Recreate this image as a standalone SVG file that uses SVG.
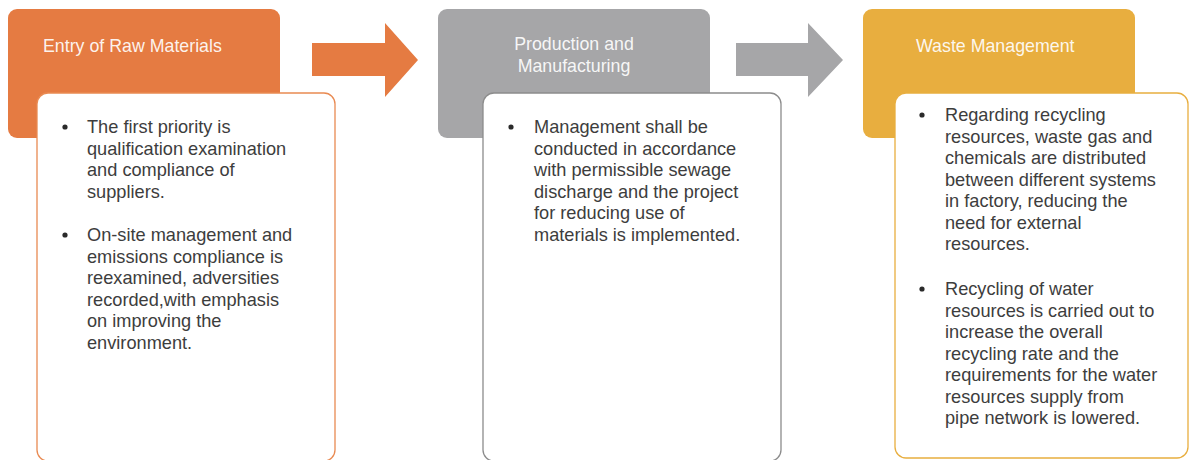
<svg xmlns="http://www.w3.org/2000/svg" width="1189" height="460" viewBox="0 0 1189 460">
<style>
.hdr{font-family:"Liberation Sans",Arial,sans-serif;font-size:17.8px;fill:#ffffff;fill-opacity:0.92}
.body{font-family:"Liberation Sans",Arial,sans-serif;font-size:18.2px;fill:#3d3d3d}
.card{fill:#ffffff;stroke-width:1.3}
</style>
<rect width="1189" height="460" fill="#ffffff"/>
<g id="connectors">
<polygon points="312,43 385,43 385,23 418,60 385,97 385,76 312,76" fill="#E57B42"/>
<polygon points="736,43 808,43 808,23 843,60 808,97 808,76 736,76" fill="#A6A6A8"/>
</g>
<g id="node-raw">
<rect x="8" y="9" width="272" height="129" rx="9" fill="#E57B42"/>
<rect class="card" x="37" y="93" width="298" height="368" rx="11" stroke="#E98A52"/>
<text class="hdr" x="43" y="52">Entry of Raw Materials</text>
<g class="body">
<circle cx="65" cy="127" r="2.6" fill="#2a2a2a"/>
<text x="87" y="133">The first priority is</text>
<text x="87" y="154.5">qualification examination</text>
<text x="87" y="176">and compliance of</text>
<text x="87" y="197.5">suppliers.</text>
<circle cx="65" cy="235" r="2.6" fill="#2a2a2a"/>
<text x="87" y="241">On-site management and</text>
<text x="87" y="262.5">emissions compliance is</text>
<text x="87" y="284">reexamined, adversities</text>
<text x="87" y="305.5">recorded,with emphasis</text>
<text x="87" y="327">on improving the</text>
<text x="87" y="348.5">environment.</text>
</g>
</g>
<g id="node-production">
<rect x="438" y="9" width="272" height="129" rx="9" fill="#A6A6A8"/>
<rect class="card" x="483" y="93" width="298" height="368" rx="11" stroke="#8c8c8c"/>
<text class="hdr" x="574" y="50" text-anchor="middle">Production and</text>
<text class="hdr" x="574" y="72" text-anchor="middle">Manufacturing</text>
<g class="body">
<circle cx="511" cy="127" r="2.6" fill="#2a2a2a"/>
<text x="534" y="133">Management shall be</text>
<text x="534" y="154.5">conducted in accordance</text>
<text x="534" y="176">with permissible sewage</text>
<text x="534" y="197.5">discharge and the project</text>
<text x="534" y="219">for reducing use of</text>
<text x="534" y="240.5">materials is implemented.</text>
</g>
</g>
<g id="node-waste">
<rect x="863" y="9" width="272" height="129" rx="9" fill="#E8AE3F"/>
<rect class="card" x="895" y="93" width="293" height="365" rx="11" stroke="#E8AE3F" stroke-width="1.8"/>
<text class="hdr" x="916" y="52">Waste Management</text>
<g class="body">
<circle cx="922" cy="115" r="2.6" fill="#2a2a2a"/>
<text x="945" y="121">Regarding recycling</text>
<text x="945" y="142.5">resources, waste gas and</text>
<text x="945" y="164">chemicals are distributed</text>
<text x="945" y="185.5">between different systems</text>
<text x="945" y="207">in factory, reducing the</text>
<text x="945" y="228.5">need for external</text>
<text x="945" y="250">resources.</text>
<circle cx="922" cy="289" r="2.6" fill="#2a2a2a"/>
<text x="945" y="295">Recycling of water</text>
<text x="945" y="316.5">resources is carried out to</text>
<text x="945" y="338">increase the overall</text>
<text x="945" y="359.5">recycling rate and the</text>
<text x="945" y="381">requirements for the water</text>
<text x="945" y="402.5">resources supply from</text>
<text x="945" y="424">pipe network is lowered.</text>
</g>
</g>
</svg>
